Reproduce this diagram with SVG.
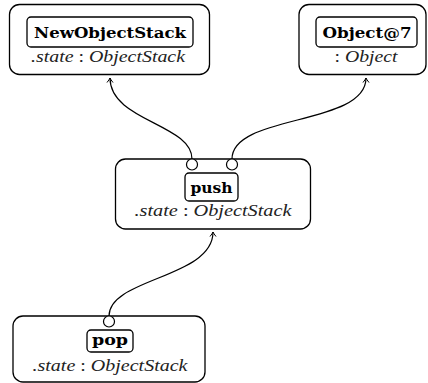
<svg xmlns="http://www.w3.org/2000/svg" width="428" height="383" viewBox="0 0 428 383">
<defs>
<style>
.outer{fill:#fff;stroke:#000;stroke-width:1.3}
.inner{fill:#fff;stroke:#000;stroke-width:1.3}
.port{fill:#fff;stroke:#000;stroke-width:1.2}
.title{font-family:"DejaVu Serif","Liberation Serif",serif;font-weight:bold;font-size:14px;fill:#000;text-anchor:middle}
.sub{font-family:"Liberation Serif","DejaVu Serif",serif;font-style:italic;font-size:16px;fill:#222;text-anchor:middle}
.up{font-style:normal}
.conn{fill:none;stroke:#000;stroke-width:1.2}
</style>
<marker id="arr" markerWidth="8" markerHeight="8" viewBox="-6 -4 8 8" refX="0" refY="0" orient="auto" markerUnits="userSpaceOnUse">
<path d="M-4.5,-3 Q-1.5,-0.6 0,0 Q-1.5,0.6 -4.5,3" fill="none" stroke="#000" stroke-width="1"/>
</marker>
</defs>
<g id="connectors">
<path class="conn" d="M109,316 C109,278 213,278 213,232" marker-end="url(#arr)"/>
<path class="conn" d="M192,159 C192,124 110,121 110,78" marker-end="url(#arr)"/>
<path class="conn" d="M232,159 C232,114 366,126 366,78" marker-end="url(#arr)"/>
</g>
<g id="NewObjectStack">
<rect class="outer" x="9.5" y="4.5" width="200" height="70" rx="10"/>
<rect class="inner" x="27" y="17" width="166" height="30" rx="4"/>
<text class="title" x="110" y="38" textLength="152" lengthAdjust="spacingAndGlyphs">NewObjectStack</text>
<text class="sub" x="108" y="62" textLength="154" lengthAdjust="spacingAndGlyphs">.state <tspan class="up">:</tspan> ObjectStack</text>
</g>
<g id="Object7">
<rect class="outer" x="299" y="4.5" width="127" height="70" rx="10"/>
<rect class="inner" x="316" y="17" width="101" height="30" rx="4"/>
<text class="title" x="367" y="38" textLength="89" lengthAdjust="spacingAndGlyphs">Object@7</text>
<text class="sub" x="366" y="62" textLength="63" lengthAdjust="spacingAndGlyphs"><tspan class="up">:</tspan> Object</text>
</g>
<g id="push">
<rect class="outer" x="115.5" y="159" width="195" height="70" rx="10"/>
<rect class="inner" x="185" y="173" width="53" height="28" rx="4"/>
<text class="title" x="211.5" y="192.5" textLength="42" lengthAdjust="spacingAndGlyphs">push</text>
<text class="sub" x="213" y="216" textLength="157" lengthAdjust="spacingAndGlyphs">.state <tspan class="up">:</tspan> ObjectStack</text>
<circle class="port" cx="192" cy="164.5" r="5.5"/>
<circle class="port" cx="232" cy="164.5" r="5.5"/>
</g>
<g id="pop">
<rect class="outer" x="13" y="316" width="192" height="66" rx="10"/>
<rect class="inner" x="87" y="330" width="46" height="22" rx="4"/>
<text class="title" x="110" y="345" textLength="36" lengthAdjust="spacingAndGlyphs">pop</text>
<text class="sub" x="110" y="371" textLength="155" lengthAdjust="spacingAndGlyphs">.state <tspan class="up">:</tspan> ObjectStack</text>
<circle class="port" cx="109" cy="321.5" r="5.5"/>
</g>
</svg>
